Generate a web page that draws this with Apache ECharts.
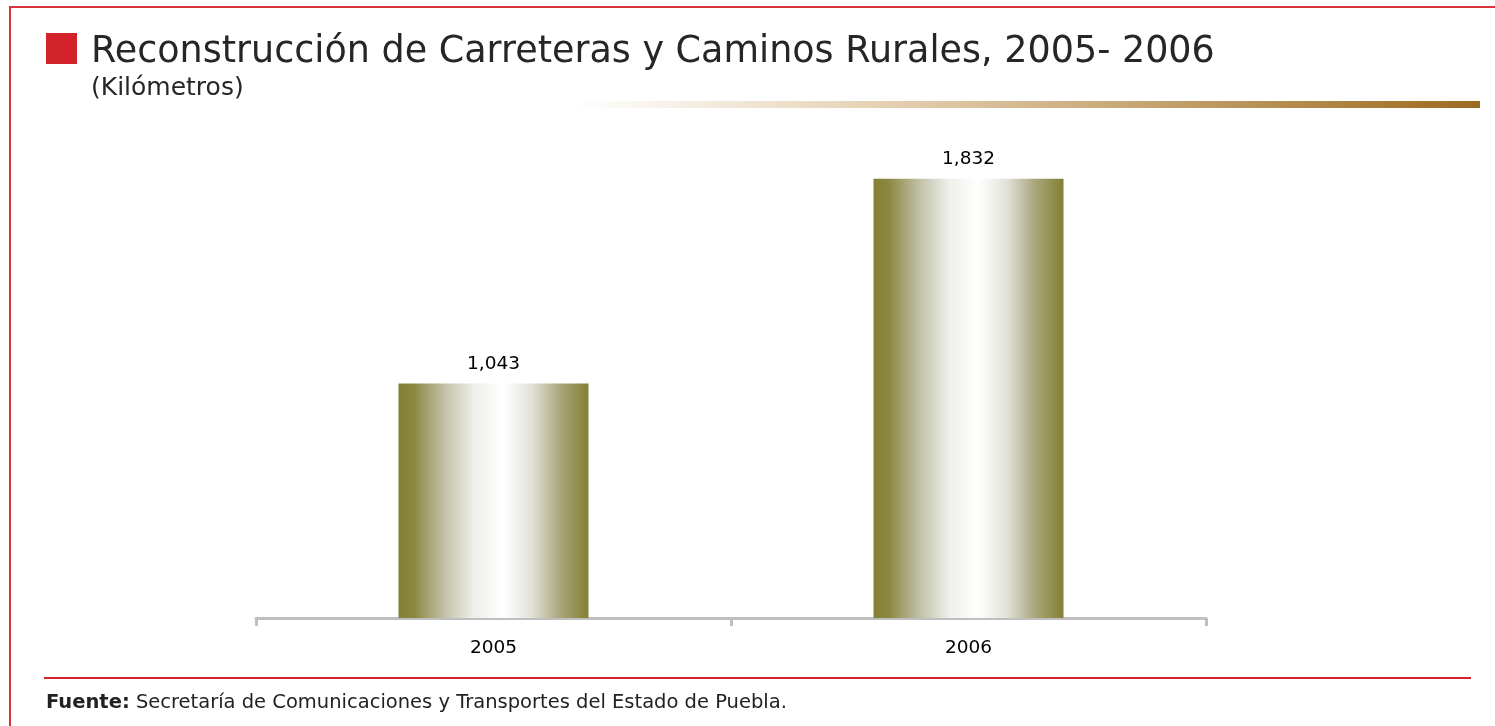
<!DOCTYPE html>
<html>
<head>
<meta charset="utf-8">
<script src="https://cdn.jsdelivr.net/npm/echarts@6/dist/echarts.min.js"></script>
<style>
  html, body { margin: 0; padding: 0; background: #fff; }
  #chart { width: 1495px; height: 726px; }
</style>
</head>
<body>
<div id="chart"></div>
<script>
// data
const years = ["2005", "2006"];
const km = [1043, 1832];

const font = "'DejaVu Sans', Verdana, sans-serif";
const chart = echarts.init(document.getElementById("chart"));

const barColor = new echarts.graphic.LinearGradient(0, 0, 1, 0, [
  { offset: 0, color: "#848033" },
  { offset: 0.08, color: "#8b8841" },
  { offset: 0.25, color: "#c4c3ad" },
  { offset: 0.4, color: "#eef0ea" },
  { offset: 0.55, color: "#ffffff" },
  { offset: 0.7, color: "#e2e2da" },
  { offset: 0.85, color: "#a9a67c" },
  { offset: 1, color: "#848033" }
]);

chart.setOption({
  animation: false,
  title: {
    text: "Reconstrucción de Carreteras y Caminos Rurales, 2005- 2006",
    subtext: "(Kilómetros)",
    left: 86,
    top: 29,
    itemGap: 5,
    textStyle: { fontFamily: font, fontSize: 36.5, fontWeight: "normal", color: "#262626" },
    subtextStyle: { fontFamily: font, fontSize: 25, color: "#262626" }
  },
  grid: { left: 256, right: 289, top: 135, bottom: 108 },
  xAxis: {
    type: "category",
    data: years,
    axisLine: { lineStyle: { color: "#bfbfbf", width: 3 } },
    axisTick: { show: true, length: 8, lineStyle: { color: "#bfbfbf", width: 3 } },
    axisLabel: { fontFamily: font, fontSize: 18.5, color: "#000", margin: 21 }
  },
  yAxis: {
    type: "value",
    min: 140,
    max: 2000,
    show: false,
    splitLine: { show: false }
  },
  series: [{
    type: "bar",
    data: km,
    barWidth: "40%",
    itemStyle: { color: barColor },
    label: {
      show: true,
      position: "top",
      distance: 10,
      fontFamily: font,
      fontSize: 18.5,
      color: "#000",
      formatter: p => p.value.toLocaleString("en-US")
    }
  }],
  graphic: [
    { type: "rect", shape: { x: 10, y: 7, width: 1500, height: 740 },
      style: { fill: null, stroke: "#d8323c", lineWidth: 2 } },
    { type: "rect", shape: { x: 46, y: 33, width: 31, height: 31 },
      style: { fill: "#d2232a" } },
    { type: "rect", shape: { x: 575, y: 101, width: 905, height: 7 },
      style: { fill: new echarts.graphic.LinearGradient(0, 0, 1, 0, [
        { offset: 0, color: "#ffffff" },
        { offset: 0.35, color: "#e4cfb0" },
        { offset: 1, color: "#9c6b1e" }
      ]) } },
    { type: "rect", shape: { x: 44, y: 677, width: 1427, height: 2 },
      style: { fill: "#d2232a" } },
    { type: "text", left: 46, top: 693,
      style: {
        text: "{b|Fuente:} Secretaría de Comunicaciones y Transportes del Estado de Puebla.",
        fontFamily: font, fontSize: 19.5, fill: "#222",
        rich: { b: { fontFamily: font, fontSize: 19.5, fontWeight: "bold", fill: "#222" } }
      } }
  ]
});
window.addEventListener("resize", () => chart.resize());
</script>
</body>
</html>
